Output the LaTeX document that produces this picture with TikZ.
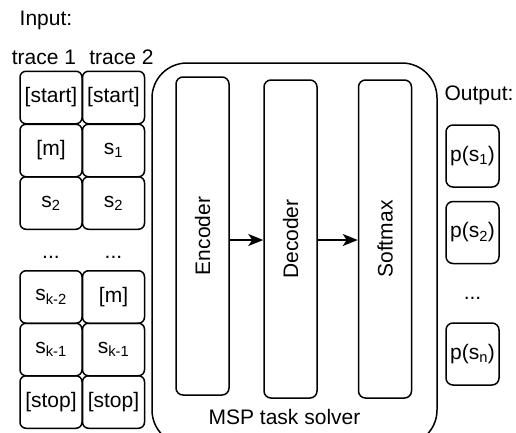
\documentclass[tikz,border=0pt]{standalone}
\usepackage{fontspec}
\setmainfont{Liberation Sans}
\usetikzlibrary{arrows.meta}
\begin{document}
\begin{tikzpicture}[x=1pt,y=-1pt,
  every node/.style={font=\fontsize{21}{24}\selectfont, inner sep=0pt},
  cell/.style={draw, line width=1.5pt, rounded corners=6pt, minimum width=62pt, minimum height=52.5pt},
  outbox/.style={draw, line width=1.5pt, rounded corners=7pt, minimum width=53pt, minimum height=62pt},
  block/.style={draw, line width=1.5pt, rounded corners=7pt, rotate=90, minimum width=318pt, minimum height=53pt},
  flow/.style={line width=1.5pt, -{Stealth[length=15pt,width=12pt,inset=4pt]}}]
\useasboundingbox (0,0) rectangle (516,432);
% container
\draw[line width=1.5pt, rounded corners=35pt] (152,63) rectangle (437,445);
\node (solver) at (284.5,417) {MSP task solver};
% labels
\node (input) at (46,20) {Input:};
\node (tr1) at (44,57) {trace 1};
\node (tr2) at (121.5,57) {trace 2};
\node (output) at (479,95) {Output:};
% trace 1
\node[cell] (a1) at (51,97.5) {[start]};
\node[cell] (a2) at (51,150.5) {[m]};
\node[cell] (a3) at (51,203) {s\textsubscript{2}};
\node (adots) at (51,257) {...};
\node[cell] (a4) at (51,297) {s\textsubscript{k-2}};
\node[cell] (a5) at (51,349.5) {s\textsubscript{k-1}};
\node[cell] (a6) at (51,402) {[stop]};
% trace 2
\node[cell] (b1) at (113.5,97.5) {[start]};
\node[cell] (b2) at (113.5,150.5) {s\textsubscript{1}};
\node[cell] (b3) at (113.5,203) {s\textsubscript{2}};
\node (bdots) at (113.5,257) {...};
\node[cell] (b4) at (113.5,297) {[m]};
\node[cell] (b5) at (113.5,349.5) {s\textsubscript{k-1}};
\node[cell] (b6) at (113.5,402) {[stop]};
% blocks
\node[block] (enc) at (202.5,236) {Encoder};
\node[block] (dec) at (290.5,239) {Decoder};
\node[block] (soft) at (385,239) {Softmax};
\draw[flow] (enc.south |- 0,240) -- (dec.north |- 0,240);
\draw[flow] (dec.south |- 0,240) -- (soft.north |- 0,240);
% outputs
\node[outbox] (p1) at (472.5,156) {p(s\textsubscript{1})};
\node[outbox] (p2) at (472.5,232.5) {p(s\textsubscript{2})};
\node (pdots) at (472.5,298) {...};
\node[outbox] (p3) at (472.5,354) {p(s\textsubscript{n})};
\end{tikzpicture}
\end{document}
